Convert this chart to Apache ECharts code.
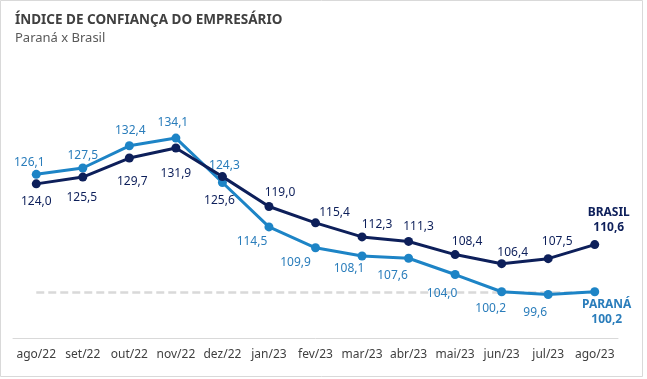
<!DOCTYPE html>
<html>
<head>
<meta charset="utf-8">
<script src="https://cdn.jsdelivr.net/npm/echarts@6/dist/echarts.min.js"></script>
<style>
html,body{margin:0;padding:0;background:#fff;}
#chart{width:647px;height:379px;}
</style>
</head>
<body>
<div id="chart"></div>
<script>
const categories = ['ago/22','set/22','out/22','nov/22','dez/22','jan/23','fev/23','mar/23','abr/23','mai/23','jun/23','jul/23','ago/23'];
const parana = [126.1,127.5,132.4,134.1,124.3,114.5,109.9,108.1,107.6,104.0,100.2,99.6,100.2];
const brasil = [124.0,125.5,129.7,131.9,125.6,119.0,115.4,112.3,111.3,108.4,106.4,107.5,110.6];
const referenceValue = 100;
const seriesNames = ['PARANÁ','BRASIL'];

// label placement (layout only)
const offP = [[-7,-12],[0,-12],[1,-15],[-3,-16],[2,-17],[-17,15],[-20,15],[-13,13],[-16,17],[-13,19],[-11,17],[-13,18],[12,20]];
const offB = [[0,18],[-1,21],[3,24],[0,26],[-3,24],[11,-14],[19,-10],[15,-12],[10,-15],[12,-13],[11,-11],[9,-17],[14,-25]];

const FONT = 'Noto Sans';
const cP = '#1d84c6', cPl = '#2a7dbb';
const cB = '#0d1f5a';

function fmt(v){ return v.toFixed(1).replace('.', ','); }

function buildData(vals, offs, name, color){
  return vals.map((v,i)=>{
    const last = i === vals.length-1;
    return {
      value: v,
      label: {
        show: true,
        position: 'inside',
        offset: offs[i],
        align: 'center',
        verticalAlign: 'middle',
        formatter: last ? '{b|'+name+'}\n{b|'+fmt(v)+'}' : fmt(v),
        color: color,
        fontFamily: FONT,
        fontSize: 12,
        lineHeight: 15,
        rich: { b: { fontWeight: 'bold', color: color, fontFamily: FONT, fontSize: 12, lineHeight: 15 } }
      }
    };
  });
}

const chart = echarts.init(document.getElementById('chart'), null, {renderer:'canvas'});
chart.setOption({
  animation: false,
  backgroundColor: '#fff',
  title: {
    text: 'ÍNDICE DE CONFIANÇA DO EMPRESÁRIO',
    subtext: 'Paraná x Brasil',
    left: 10, top: 8,
    itemGap: 5,
    textStyle: { fontFamily: FONT, fontSize: 13.5, fontWeight: 'bold', color: '#404040' },
    subtextStyle: { fontFamily: FONT, fontSize: 13, color: '#595959' }
  },
  graphic: [{
    type: 'rect', z: -10, silent: true,
    shape: { x: 0.5, y: 0.5, width: 642, height: 376 },
    style: { fill: 'none', stroke: '#d9d9d9', lineWidth: 1 }
  }],
  grid: { left: 13, right: 29, top: 66, bottom: 41 },
  xAxis: {
    type: 'category',
    data: categories,
    boundaryGap: true,
    axisLine: { show: true, lineStyle: { color: '#d9d9d9', width: 1 } },
    axisTick: { show: false },
    axisLabel: { fontFamily: FONT, fontSize: 12, color: '#404040', margin: 11, interval: 0 }
  },
  yAxis: { type: 'value', min: 90, max: 150, show: false, splitLine: { show: false } },
  series: [
    {
      type: 'line', z: 1, data: [], silent: true,
      markLine: {
        z: 1, silent: true, symbol: ['none','none'],
        label: { show: false },
        lineStyle: { color: '#d9d9d9', type: [8,4], width: 2.5 },
        data: [[{ coord: [0, referenceValue] }, { coord: [categories.length-1, referenceValue] }]]
      }
    },
    {
      name: seriesNames[0], type: 'line', z: 3,
      data: buildData(parana, offP, seriesNames[0], cPl),
      symbol: 'circle', symbolSize: 9,
      lineStyle: { color: cP, width: 3 },
      itemStyle: { color: cP }
    },
    {
      name: seriesNames[1], type: 'line', z: 4,
      data: buildData(brasil, offB, seriesNames[1], cB),
      symbol: 'circle', symbolSize: 9,
      lineStyle: { color: cB, width: 3 },
      itemStyle: { color: cB }
    }
  ]
});
</script>
</body>
</html>
